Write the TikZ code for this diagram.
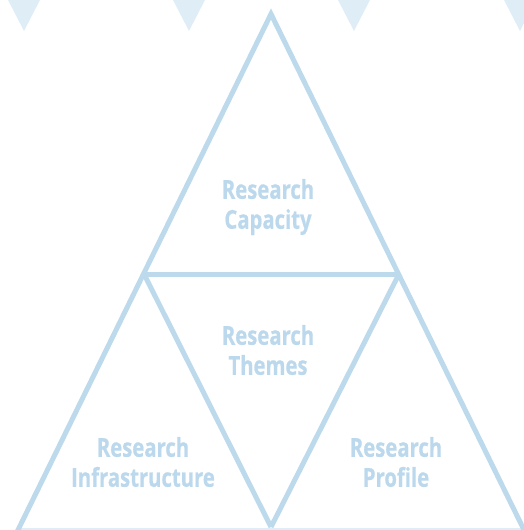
\documentclass[tikz,border=0pt]{standalone}
\usepackage{fontspec}
\setmainfont{Open Sans}[FakeStretch=0.78,BoldFeatures={FakeBold=0.6}]
\definecolor{edge}{HTML}{BDDAEC}
\definecolor{pale}{HTML}{DFEDF7}
\definecolor{txt}{HTML}{BBD8EC}
\begin{document}
\begin{tikzpicture}[x=1pt,y=-1pt,
  edgeline/.style={draw=edge,line width=5pt,line join=miter},
  label/.style={text=txt,font=\bfseries\fontsize{26}{30}\selectfont,align=center,inner sep=0pt}]
\useasboundingbox (0,0) rectangle (523,530);
% top flags
\foreach \cx in {24,189,354,520}{
  \fill[pale] (\cx-16,0) -- (\cx+16,0) -- (\cx,31) -- cycle;
}
% corners
\coordinate (apex) at (271,14);
\coordinate (bl) at (17,532);
\coordinate (br) at (525,532);
\coordinate (ml) at (144,274);
\coordinate (mr) at (399,274);
\coordinate (bm) at (271,527);
% faint base
\draw[pale,line width=2pt] (18,529) -- (523,529);
% outer sides
\draw[edgeline] (bl) -- (apex) -- (br);
% middle bar
\draw[edgeline] (ml) -- (mr);
% inner inverted triangle
\draw[edgeline] (ml) -- (bm);
\draw[edgeline] (mr) -- (bm);
% labels
\node[label] (cap) at (268,207) {Research\\Capacity};
\node[label] (thm) at (268,350) {Research\\Themes};
\node[label] (inf) at (143,462) {Research\\Infrastructure};
\node[label] (pro) at (396,462) {Research\\Profile};
\end{tikzpicture}
\end{document}
